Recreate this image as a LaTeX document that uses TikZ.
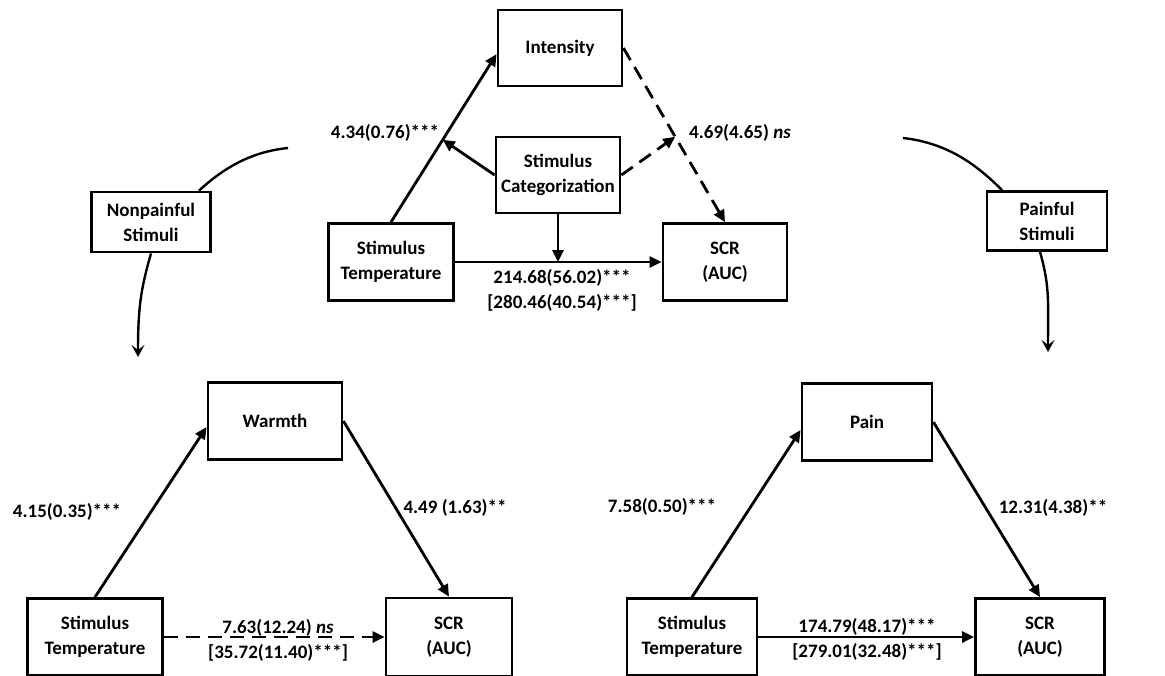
\documentclass[tikz,border=0pt]{standalone}
\usepackage{fontspec}
\setmainfont{Carlito}
\usetikzlibrary{arrows.meta,calc}
\tikzset{
  box/.style={draw,line width=1.4pt,align=center,inner sep=2pt,
    font=\fontsize{9.5}{12.5}\selectfont\bfseries},
  coef/.style={align=center,inner sep=1pt,
    font=\fontsize{9.5}{12.5}\selectfont\bfseries},
  arr/.style={line width=1.4pt,-{Triangle[length=6pt,width=5.5pt]}},
  dashline/.style={dash pattern=on 7pt off 4pt},
  curv/.style={line width=1.2pt,-{Stealth[length=6pt,width=6.5pt,inset=2.5pt]}}
}
\begin{document}
\begin{tikzpicture}[x=0.5pt,y=-0.5pt]
\useasboundingbox (0,0) rectangle (1165,675);
\clip (0,0) rectangle (1165,675);

\node[box,minimum width=62pt,minimum height=38pt] (int) at (560,48) {Intensity};
\node[box,minimum width=62pt,minimum height=38pt] (cat) at (558,175) {Stimulus\\Categorization};
\node[box,minimum width=62.5pt,minimum height=38.5pt] (temp) at (391,262) {Stimulus\\Temperature};
\node[box,minimum width=62pt,minimum height=38.5pt] (scr) at (725,262) {SCR\\(AUC)};

\node[box,minimum width=59.5pt,minimum height=30pt] (nonpain) at (151,222) {Nonpainful\\Stimuli};
\node[box,minimum width=60pt,minimum height=29.5pt] (painful) at (1047,221) {Painful\\Stimuli};

\node[box,minimum width=67pt,minimum height=38.5pt] (warmth) at (275,421) {Warmth};
\node[box,minimum width=67.5pt,minimum height=38.5pt] (tempw) at (95,637) {Stimulus\\Temperature};
\node[box,minimum width=63pt,minimum height=39pt] (scrw) at (449,637) {SCR\\(AUC)};

\node[box,minimum width=65pt,minimum height=38.5pt] (pain) at (867,422) {Pain};
\node[box,minimum width=65pt,minimum height=38.5pt] (tempp) at (692,637) {Stimulus\\Temperature};
\node[box,minimum width=64.5pt,minimum height=38.5pt] (scrp) at (1040,637) {SCR\\(AUC)};

\draw[arr] (temp.north) -- ([yshift=-3pt]int.west);
\coordinate (ti) at ($(temp.north)!0.49!([yshift=-3pt]int.west)$);
\draw[arr] (cat.west) -- (ti);
\draw[arr,dashline] (int.east) -- (scr.north);
\coordinate (is) at ($(int.east)!0.51!(scr.north)$);
\draw[arr,dashline] (cat.east) -- (is);
\draw[arr] (cat.south) -- (cat.south |- temp.east);
\draw[arr] (temp.east) -- (scr.west);

\draw[arr] (tempw.north) -- ([yshift=-3pt]warmth.west);
\draw[arr] (warmth.east) -- (scrw.north);
\draw[arr,dashline] (tempw.east) -- (scrw.west);

\draw[arr] (tempp.north) -- ([yshift=-4pt]pain.west);
\draw[arr] (pain.east) -- (scrp.north);
\draw[arr] (tempp.east) -- (scrp.west);

\coordinate (npfrom) at (288,148);
\coordinate (npto) at (138,357);
\draw[line width=1.2pt] (npfrom) .. controls +(-40,4) and +(22,-20) .. ([xshift=24pt]nonpain.north);
\draw[curv] (nonpain.south) .. controls +(-10,35) and +(0,-50) .. (npto);

\coordinate (pfrom) at (903,138);
\coordinate (pto) at (1048,352);
\draw[line width=1.2pt] (pfrom) .. controls +(45,5) and +(-25,-25) .. ([xshift=-22.5pt]painful.north);
\draw[curv] ([xshift=-3.5pt]painful.south) .. controls +(10,35) and +(0,-50) .. (pto);

\node[coef] (c1) at (385,133) {4.34(0.76)***};
\node[coef] (c2) at (740,133) {4.69(4.65) \textit{ns}};
\node[coef] (c3) at (562,290) {214.68(56.02)***\\{[}280.46(40.54)***{]}};

\node[coef] (c4) at (67,512) {4.15(0.35)***};
\node[coef] (c5) at (455,508) {4.49 (1.63)**};
\node[coef] (c6) at (278,640) {7.63(12.24) \textit{ns}\\{[}35.72(11.40)***{]}};

\node[coef] (c7) at (662,507) {7.58(0.50)***};
\node[coef] (c8) at (1053,508) {12.31(4.38)**};
\node[coef] (c9) at (867,639) {174.79(48.17)***\\{[}279.01(32.48)***{]}};
\end{tikzpicture}
\end{document}
